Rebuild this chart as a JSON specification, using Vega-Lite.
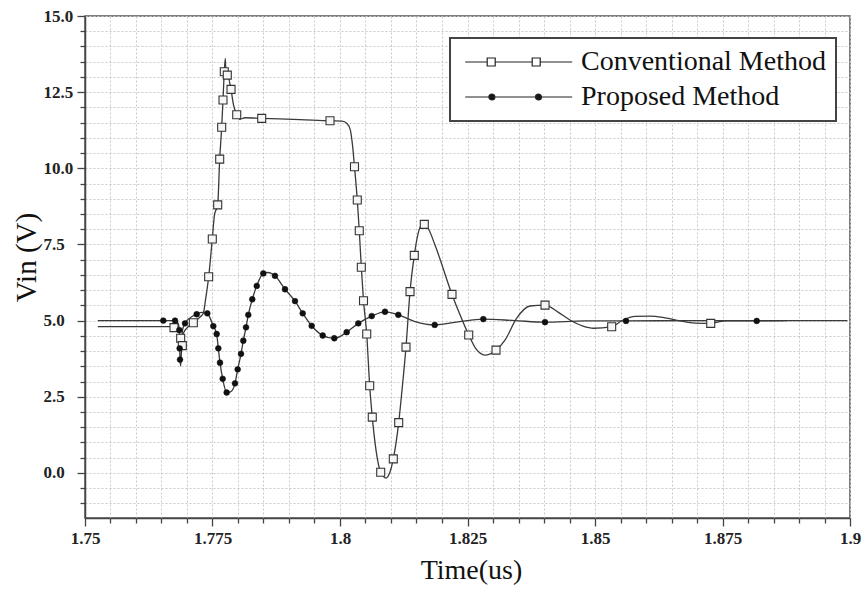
{
  "$schema": "https://vega.github.io/schema/vega-lite/v6.json",
  "width": 765,
  "height": 502,
  "autosize": "none",
  "padding": {"left": 85, "top": 16, "right": 15, "bottom": 73},
  "background": "white",
  "config": {
    "font": "Liberation Serif",
    "view": {"stroke": "#555555", "strokeWidth": 1.5},
    "legend": {"strokeWidth": 2}
  },
  "datasets": {
    "curves": [
      {"series": "Conventional Method", "t": 1.7525, "v": 4.80},
      {"series": "Conventional Method", "t": 1.7672, "v": 4.80},
      {"series": "Conventional Method", "t": 1.76745, "v": 4.77},
      {"series": "Conventional Method", "t": 1.76824, "v": 4.69},
      {"series": "Conventional Method", "t": 1.76876, "v": 4.42},
      {"series": "Conventional Method", "t": 1.76892, "v": 4.14},
      {"series": "Conventional Method", "t": 1.76908, "v": 4.18},
      {"series": "Conventional Method", "t": 1.76931, "v": 4.59},
      {"series": "Conventional Method", "t": 1.77, "v": 4.76},
      {"series": "Conventional Method", "t": 1.77124, "v": 4.93},
      {"series": "Conventional Method", "t": 1.77255, "v": 5.12},
      {"series": "Conventional Method", "t": 1.7732, "v": 5.24},
      {"series": "Conventional Method", "t": 1.77363, "v": 5.68},
      {"series": "Conventional Method", "t": 1.77425, "v": 6.44},
      {"series": "Conventional Method", "t": 1.77496, "v": 7.68},
      {"series": "Conventional Method", "t": 1.77539, "v": 8.47},
      {"series": "Conventional Method", "t": 1.77602, "v": 8.80},
      {"series": "Conventional Method", "t": 1.77641, "v": 10.30},
      {"series": "Conventional Method", "t": 1.7768, "v": 11.35},
      {"series": "Conventional Method", "t": 1.77706, "v": 12.24},
      {"series": "Conventional Method", "t": 1.77731, "v": 13.17},
      {"series": "Conventional Method", "t": 1.77751, "v": 13.61},
      {"series": "Conventional Method", "t": 1.77765, "v": 13.06},
      {"series": "Conventional Method", "t": 1.7779, "v": 13.06},
      {"series": "Conventional Method", "t": 1.77863, "v": 12.59},
      {"series": "Conventional Method", "t": 1.77912, "v": 12.08},
      {"series": "Conventional Method", "t": 1.77975, "v": 11.76},
      {"series": "Conventional Method", "t": 1.78039, "v": 11.61},
      {"series": "Conventional Method", "t": 1.78137, "v": 11.66},
      {"series": "Conventional Method", "t": 1.78465, "v": 11.64},
      {"series": "Conventional Method", "t": 1.79216, "v": 11.60},
      {"series": "Conventional Method", "t": 1.79804, "v": 11.56},
      {"series": "Conventional Method", "t": 1.80039, "v": 11.55},
      {"series": "Conventional Method", "t": 1.80137, "v": 11.47},
      {"series": "Conventional Method", "t": 1.80202, "v": 11.26},
      {"series": "Conventional Method", "t": 1.80245, "v": 10.76},
      {"series": "Conventional Method", "t": 1.80284, "v": 10.05},
      {"series": "Conventional Method", "t": 1.80339, "v": 8.96},
      {"series": "Conventional Method", "t": 1.80378, "v": 7.95},
      {"series": "Conventional Method", "t": 1.80418, "v": 6.75},
      {"series": "Conventional Method", "t": 1.80461, "v": 5.65},
      {"series": "Conventional Method", "t": 1.80524, "v": 4.56},
      {"series": "Conventional Method", "t": 1.80582, "v": 2.86},
      {"series": "Conventional Method", "t": 1.80633, "v": 1.83},
      {"series": "Conventional Method", "t": 1.80706, "v": 0.75},
      {"series": "Conventional Method", "t": 1.80798, "v": 0.02},
      {"series": "Conventional Method", "t": 1.80902, "v": -0.17},
      {"series": "Conventional Method", "t": 1.8098, "v": 0.03},
      {"series": "Conventional Method", "t": 1.81045, "v": 0.46},
      {"series": "Conventional Method", "t": 1.81151, "v": 1.65},
      {"series": "Conventional Method", "t": 1.81216, "v": 2.72},
      {"series": "Conventional Method", "t": 1.81294, "v": 4.13},
      {"series": "Conventional Method", "t": 1.81373, "v": 5.95},
      {"series": "Conventional Method", "t": 1.81457, "v": 7.14},
      {"series": "Conventional Method", "t": 1.81529, "v": 7.84},
      {"series": "Conventional Method", "t": 1.81588, "v": 8.11},
      {"series": "Conventional Method", "t": 1.81653, "v": 8.16},
      {"series": "Conventional Method", "t": 1.81725, "v": 8.04},
      {"series": "Conventional Method", "t": 1.81863, "v": 7.48},
      {"series": "Conventional Method", "t": 1.82196, "v": 5.86},
      {"series": "Conventional Method", "t": 1.82353, "v": 5.19},
      {"series": "Conventional Method", "t": 1.82524, "v": 4.53},
      {"series": "Conventional Method", "t": 1.82667, "v": 4.07},
      {"series": "Conventional Method", "t": 1.82843, "v": 3.87},
      {"series": "Conventional Method", "t": 1.83059, "v": 4.03},
      {"series": "Conventional Method", "t": 1.83235, "v": 4.36},
      {"series": "Conventional Method", "t": 1.83465, "v": 5.08},
      {"series": "Conventional Method", "t": 1.83725, "v": 5.48},
      {"series": "Conventional Method", "t": 1.8402, "v": 5.51},
      {"series": "Conventional Method", "t": 1.84275, "v": 5.28},
      {"series": "Conventional Method", "t": 1.8451, "v": 5.02},
      {"series": "Conventional Method", "t": 1.84765, "v": 4.82},
      {"series": "Conventional Method", "t": 1.84967, "v": 4.75},
      {"series": "Conventional Method", "t": 1.85327, "v": 4.80},
      {"series": "Conventional Method", "t": 1.85549, "v": 5.02},
      {"series": "Conventional Method", "t": 1.85784, "v": 5.14},
      {"series": "Conventional Method", "t": 1.86078, "v": 5.15},
      {"series": "Conventional Method", "t": 1.86373, "v": 5.09},
      {"series": "Conventional Method", "t": 1.86667, "v": 4.99},
      {"series": "Conventional Method", "t": 1.86961, "v": 4.92},
      {"series": "Conventional Method", "t": 1.87269, "v": 4.91},
      {"series": "Conventional Method", "t": 1.87582, "v": 5.00},
      {"series": "Conventional Method", "t": 1.8995, "v": 5.00},
      {"series": "Proposed Method", "t": 1.7525, "v": 5.00},
      {"series": "Proposed Method", "t": 1.76535, "v": 5.00},
      {"series": "Proposed Method", "t": 1.76765, "v": 5.00},
      {"series": "Proposed Method", "t": 1.76824, "v": 4.92},
      {"series": "Proposed Method", "t": 1.76849, "v": 4.69},
      {"series": "Proposed Method", "t": 1.76863, "v": 3.71},
      {"series": "Proposed Method", "t": 1.76876, "v": 3.51},
      {"series": "Proposed Method", "t": 1.76892, "v": 4.04},
      {"series": "Proposed Method", "t": 1.76912, "v": 4.69},
      {"series": "Proposed Method", "t": 1.76961, "v": 4.91},
      {"series": "Proposed Method", "t": 1.77059, "v": 5.09},
      {"series": "Proposed Method", "t": 1.7719, "v": 5.21},
      {"series": "Proposed Method", "t": 1.77294, "v": 5.27},
      {"series": "Proposed Method", "t": 1.77398, "v": 5.24},
      {"series": "Proposed Method", "t": 1.77451, "v": 5.09},
      {"series": "Proposed Method", "t": 1.77516, "v": 4.82},
      {"series": "Proposed Method", "t": 1.77582, "v": 4.56},
      {"series": "Proposed Method", "t": 1.77614, "v": 4.09},
      {"series": "Proposed Method", "t": 1.77647, "v": 3.62},
      {"series": "Proposed Method", "t": 1.777, "v": 3.09},
      {"series": "Proposed Method", "t": 1.77778, "v": 2.64},
      {"series": "Proposed Method", "t": 1.77853, "v": 2.66},
      {"series": "Proposed Method", "t": 1.77941, "v": 2.94},
      {"series": "Proposed Method", "t": 1.77994, "v": 3.40},
      {"series": "Proposed Method", "t": 1.78059, "v": 3.91},
      {"series": "Proposed Method", "t": 1.78104, "v": 4.34},
      {"series": "Proposed Method", "t": 1.78157, "v": 4.78},
      {"series": "Proposed Method", "t": 1.78202, "v": 5.19},
      {"series": "Proposed Method", "t": 1.7828, "v": 5.70},
      {"series": "Proposed Method", "t": 1.78367, "v": 6.14},
      {"series": "Proposed Method", "t": 1.78496, "v": 6.55},
      {"series": "Proposed Method", "t": 1.78588, "v": 6.58},
      {"series": "Proposed Method", "t": 1.78725, "v": 6.47},
      {"series": "Proposed Method", "t": 1.78922, "v": 6.03},
      {"series": "Proposed Method", "t": 1.79118, "v": 5.64},
      {"series": "Proposed Method", "t": 1.79269, "v": 5.24},
      {"series": "Proposed Method", "t": 1.79445, "v": 4.83},
      {"series": "Proposed Method", "t": 1.79661, "v": 4.51},
      {"series": "Proposed Method", "t": 1.79888, "v": 4.42},
      {"series": "Proposed Method", "t": 1.80131, "v": 4.62},
      {"series": "Proposed Method", "t": 1.80359, "v": 4.91},
      {"series": "Proposed Method", "t": 1.80622, "v": 5.15},
      {"series": "Proposed Method", "t": 1.80882, "v": 5.29},
      {"series": "Proposed Method", "t": 1.81143, "v": 5.19},
      {"series": "Proposed Method", "t": 1.81471, "v": 4.97},
      {"series": "Proposed Method", "t": 1.81857, "v": 4.86},
      {"series": "Proposed Method", "t": 1.82314, "v": 4.96},
      {"series": "Proposed Method", "t": 1.8281, "v": 5.05},
      {"series": "Proposed Method", "t": 1.83431, "v": 5.00},
      {"series": "Proposed Method", "t": 1.8402, "v": 4.95},
      {"series": "Proposed Method", "t": 1.84804, "v": 4.99},
      {"series": "Proposed Method", "t": 1.85608, "v": 4.99},
      {"series": "Proposed Method", "t": 1.86863, "v": 5.00},
      {"series": "Proposed Method", "t": 1.88171, "v": 4.99},
      {"series": "Proposed Method", "t": 1.88759, "v": 5.00}
    ],
    "markers": [
      {"series": "Conventional Method", "t": 1.76745, "v": 4.77},
      {"series": "Conventional Method", "t": 1.76876, "v": 4.42},
      {"series": "Conventional Method", "t": 1.76908, "v": 4.18},
      {"series": "Conventional Method", "t": 1.77124, "v": 4.93},
      {"series": "Conventional Method", "t": 1.77425, "v": 6.44},
      {"series": "Conventional Method", "t": 1.77496, "v": 7.68},
      {"series": "Conventional Method", "t": 1.77602, "v": 8.80},
      {"series": "Conventional Method", "t": 1.77641, "v": 10.30},
      {"series": "Conventional Method", "t": 1.7768, "v": 11.35},
      {"series": "Conventional Method", "t": 1.77706, "v": 12.24},
      {"series": "Conventional Method", "t": 1.77731, "v": 13.17},
      {"series": "Conventional Method", "t": 1.7779, "v": 13.06},
      {"series": "Conventional Method", "t": 1.77863, "v": 12.59},
      {"series": "Conventional Method", "t": 1.77975, "v": 11.76},
      {"series": "Conventional Method", "t": 1.78465, "v": 11.64},
      {"series": "Conventional Method", "t": 1.79804, "v": 11.56},
      {"series": "Conventional Method", "t": 1.80284, "v": 10.05},
      {"series": "Conventional Method", "t": 1.80339, "v": 8.96},
      {"series": "Conventional Method", "t": 1.80378, "v": 7.95},
      {"series": "Conventional Method", "t": 1.80418, "v": 6.75},
      {"series": "Conventional Method", "t": 1.80461, "v": 5.65},
      {"series": "Conventional Method", "t": 1.80524, "v": 4.56},
      {"series": "Conventional Method", "t": 1.80582, "v": 2.86},
      {"series": "Conventional Method", "t": 1.80633, "v": 1.83},
      {"series": "Conventional Method", "t": 1.80798, "v": 0.02},
      {"series": "Conventional Method", "t": 1.81045, "v": 0.46},
      {"series": "Conventional Method", "t": 1.81151, "v": 1.65},
      {"series": "Conventional Method", "t": 1.81294, "v": 4.13},
      {"series": "Conventional Method", "t": 1.81373, "v": 5.95},
      {"series": "Conventional Method", "t": 1.81457, "v": 7.14},
      {"series": "Conventional Method", "t": 1.81653, "v": 8.16},
      {"series": "Conventional Method", "t": 1.82196, "v": 5.86},
      {"series": "Conventional Method", "t": 1.82524, "v": 4.53},
      {"series": "Conventional Method", "t": 1.83059, "v": 4.03},
      {"series": "Conventional Method", "t": 1.8402, "v": 5.51},
      {"series": "Conventional Method", "t": 1.85327, "v": 4.80},
      {"series": "Conventional Method", "t": 1.87269, "v": 4.91},
      {"series": "Proposed Method", "t": 1.76535, "v": 5.00},
      {"series": "Proposed Method", "t": 1.76765, "v": 5.00},
      {"series": "Proposed Method", "t": 1.76849, "v": 4.69},
      {"series": "Proposed Method", "t": 1.76856, "v": 4.09},
      {"series": "Proposed Method", "t": 1.76863, "v": 3.72},
      {"series": "Proposed Method", "t": 1.76961, "v": 4.91},
      {"series": "Proposed Method", "t": 1.7719, "v": 5.21},
      {"series": "Proposed Method", "t": 1.77398, "v": 5.24},
      {"series": "Proposed Method", "t": 1.77516, "v": 4.82},
      {"series": "Proposed Method", "t": 1.77582, "v": 4.56},
      {"series": "Proposed Method", "t": 1.77614, "v": 4.09},
      {"series": "Proposed Method", "t": 1.77647, "v": 3.62},
      {"series": "Proposed Method", "t": 1.777, "v": 3.09},
      {"series": "Proposed Method", "t": 1.77778, "v": 2.64},
      {"series": "Proposed Method", "t": 1.77941, "v": 2.94},
      {"series": "Proposed Method", "t": 1.77994, "v": 3.40},
      {"series": "Proposed Method", "t": 1.78059, "v": 3.91},
      {"series": "Proposed Method", "t": 1.78104, "v": 4.34},
      {"series": "Proposed Method", "t": 1.78157, "v": 4.78},
      {"series": "Proposed Method", "t": 1.78202, "v": 5.19},
      {"series": "Proposed Method", "t": 1.7828, "v": 5.70},
      {"series": "Proposed Method", "t": 1.78367, "v": 6.14},
      {"series": "Proposed Method", "t": 1.78496, "v": 6.55},
      {"series": "Proposed Method", "t": 1.78725, "v": 6.47},
      {"series": "Proposed Method", "t": 1.78922, "v": 6.03},
      {"series": "Proposed Method", "t": 1.79118, "v": 5.64},
      {"series": "Proposed Method", "t": 1.79269, "v": 5.24},
      {"series": "Proposed Method", "t": 1.79445, "v": 4.83},
      {"series": "Proposed Method", "t": 1.79661, "v": 4.51},
      {"series": "Proposed Method", "t": 1.79888, "v": 4.42},
      {"series": "Proposed Method", "t": 1.80131, "v": 4.62},
      {"series": "Proposed Method", "t": 1.80359, "v": 4.91},
      {"series": "Proposed Method", "t": 1.80622, "v": 5.15},
      {"series": "Proposed Method", "t": 1.80882, "v": 5.29},
      {"series": "Proposed Method", "t": 1.81143, "v": 5.19},
      {"series": "Proposed Method", "t": 1.81857, "v": 4.86},
      {"series": "Proposed Method", "t": 1.8281, "v": 5.05},
      {"series": "Proposed Method", "t": 1.8402, "v": 4.95},
      {"series": "Proposed Method", "t": 1.85608, "v": 4.99},
      {"series": "Proposed Method", "t": 1.88171, "v": 4.99}
    ],
    "legendrows": [
      {"series": "Conventional Method"},
      {"series": "Proposed Method"}
    ]
  },
  "encoding": {
    "x": {
      "field": "t",
      "type": "quantitative",
      "scale": {"domain": [1.75, 1.9], "nice": false, "zero": false},
      "axis": {
        "title": "Time(us)",
        "values": [1.75, 1.755, 1.76, 1.765, 1.77, 1.775, 1.78, 1.785, 1.79, 1.795, 1.8, 1.805, 1.81, 1.815, 1.82, 1.825, 1.83, 1.835, 1.84, 1.845, 1.85, 1.855, 1.86, 1.865, 1.87, 1.875, 1.88, 1.885, 1.89, 1.895, 1.9],
        "labelExpr": "abs(datum.value*40 - round(datum.value*40)) < 0.01 ? format(datum.value, '~g') : ''",
        "tickSize": {"condition": {"test": "abs(datum.value*40 - round(datum.value*40)) < 0.01", "value": 8}, "value": 5},
        "grid": true,
        "gridColor": "#c8c8c8",
        "gridDash": [2, 2],
        "gridWidth": 1,
        "domainColor": "#444444",
        "domainWidth": 1.5,
        "tickColor": "#444444",
        "tickWidth": 1.3,
        "labelFont": "Liberation Serif",
        "labelFontSize": 17,
        "labelFontWeight": "bold",
        "labelColor": "#222222",
        "labelPadding": 4,
        "labelFlush": false,
        "labelOverlap": false,
        "titleFont": "Liberation Serif",
        "titleFontSize": 28,
        "titleFontWeight": "normal",
        "titleColor": "#111111",
        "titleX": 386,
        "titleY": 60,
        "titleBaseline": "alphabetic",
        "titleAlign": "center"
      }
    },
    "y": {
      "field": "v",
      "type": "quantitative",
      "scale": {"domain": [-1.48, 15], "nice": false, "zero": false},
      "axis": {
        "title": "Vin (V)",
        "values": [-1, -0.5, 0, 0.5, 1, 1.5, 2, 2.5, 3, 3.5, 4, 4.5, 5, 5.5, 6, 6.5, 7, 7.5, 8, 8.5, 9, 9.5, 10, 10.5, 11, 11.5, 12, 12.5, 13, 13.5, 14, 14.5, 15],
        "labelExpr": "abs(datum.value/2.5 - round(datum.value/2.5)) < 0.01 ? format(datum.value, '.1f') : ''",
        "tickSize": {"condition": {"test": "abs(datum.value/2.5 - round(datum.value/2.5)) < 0.01", "value": 8}, "value": 5},
        "grid": true,
        "gridColor": "#c8c8c8",
        "gridDash": [2, 2],
        "gridWidth": 1,
        "domainColor": "#444444",
        "domainWidth": 1.5,
        "tickColor": "#444444",
        "tickWidth": 1.3,
        "labelFont": "Liberation Serif",
        "labelFontSize": 17,
        "labelFontWeight": "bold",
        "labelColor": "#222222",
        "labelAlign": "left",
        "labelBaseline": "middle",
        "labelPadding": 34,
        "labelFlush": false,
        "labelOverlap": false,
        "titleFont": "Liberation Serif",
        "titleFontSize": 29,
        "titleFontWeight": "normal",
        "titleColor": "#111111",
        "titleAngle": -90,
        "titleX": -50,
        "titleY": 241,
        "titleBaseline": "alphabetic",
        "titleAlign": "center"
      }
    }
  },
  "layer": [
    {
      "data": {"name": "curves"},
      "mark": {"type": "line", "stroke": "#3a3a3a", "strokeWidth": 1.3, "interpolate": "monotone"},
      "encoding": {"detail": {"field": "series"}}
    },
    {
      "data": {"name": "markers"},
      "transform": [{"filter": "datum.series == 'Conventional Method'"}],
      "mark": {"type": "point", "shape": "square", "size": 64, "filled": true, "fill": "#f6f6f6", "stroke": "#333333", "strokeWidth": 1.1, "opacity": 1}
    },
    {
      "data": {"name": "markers"},
      "transform": [{"filter": "datum.series == 'Proposed Method'"}],
      "mark": {"type": "point", "shape": "circle", "size": 34, "filled": true, "fill": "#111111", "stroke": "#111111", "strokeWidth": 0.5, "opacity": 1}
    },
    {
      "data": {"name": "legendrows"},
      "mark": {"type": "point", "filled": false, "opacity": 0, "stroke": "#222222", "strokeWidth": 1.2},
      "encoding": {
        "x": {"datum": 1.8},
        "y": {"datum": 5},
        "shape": {
          "field": "series",
          "type": "nominal",
          "scale": {
            "domain": ["Conventional Method", "Proposed Method"],
            "range": [
              "M-1.08,0H1.12M1.92,0H5.62M6.42,0H9.62M1.12,-0.4H1.92V0.4H1.12ZM5.62,-0.4H6.42V0.4H5.62Z",
              "M-1.08,0H9.62M1.29,0A0.3,0.3,0,1,0,1.89,0A0.3,0.3,0,1,0,1.29,0ZM5.95,0A0.3,0.3,0,1,0,6.55,0A0.3,0.3,0,1,0,5.95,0Z"
            ]
          },
          "legend": {
            "title": null,
            "orient": "none",
            "legendX": 365,
            "legendY": 22,
            "padding": 10,
            "fillColor": "white",
            "strokeColor": "#444444",
            "cornerRadius": 0,
            "rowPadding": 7,
            "symbolSize": 400,
            "symbolOffset": 2,
            "symbolOpacity": 1,
            "symbolStrokeColor": "#222222",
            "symbolStrokeWidth": 1.2,
            "labelOffset": 91,
            "labelFont": "Liberation Serif",
            "labelFontSize": 28,
            "labelColor": "#111111",
            "labelLimit": 0,
            "labelBaseline": "middle",
            "encode": {
              "symbols": {
                "update": {
                  "stroke": {"value": "#222222"},
                  "strokeWidth": {"value": 1.2},
                  "strokeOpacity": {"value": 1},
                  "opacity": {"value": 1}
                }
              }
            }
          }
        },
        "fill": {
          "field": "series",
          "type": "nominal",
          "scale": {"domain": ["Conventional Method", "Proposed Method"], "range": ["#ffffff", "#111111"]},
          "legend": {
            "title": null,
            "orient": "none",
            "legendX": 365,
            "legendY": 22,
            "padding": 10,
            "fillColor": "white",
            "strokeColor": "#444444",
            "cornerRadius": 0,
            "rowPadding": 7,
            "symbolSize": 400,
            "symbolOffset": 2,
            "symbolOpacity": 1,
            "symbolStrokeColor": "#222222",
            "symbolStrokeWidth": 1.2,
            "labelOffset": 91,
            "labelFont": "Liberation Serif",
            "labelFontSize": 28,
            "labelColor": "#111111",
            "labelLimit": 0,
            "labelBaseline": "middle",
            "encode": {
              "symbols": {
                "update": {
                  "stroke": {"value": "#222222"},
                  "strokeWidth": {"value": 1.2},
                  "strokeOpacity": {"value": 1},
                  "opacity": {"value": 1}
                }
              }
            }
          }
        }
      }
    }
  ]
}
